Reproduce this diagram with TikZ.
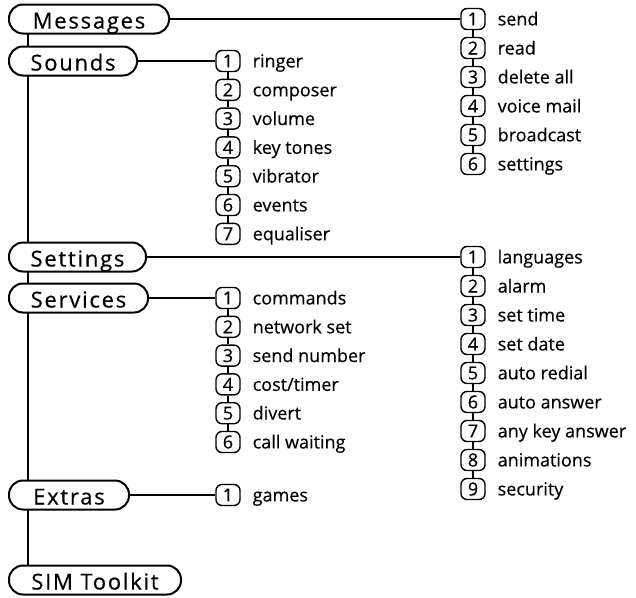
\documentclass[tikz,border=0pt]{standalone}
\usepackage{fontspec}
\setmainfont{Open Sans}[FakeBold=0.4]
\newfontfamily\menufont{Open Sans}[LetterSpace=8, FakeBold=0.5]
\usetikzlibrary{positioning,backgrounds}

\begin{document}
\begin{tikzpicture}[x=1pt, y=-1pt, line width=2pt,
    menu/.style={draw, fill=white, rounded corners=14pt, anchor=west,
      minimum height=29pt, inner sep=0pt, text height=19pt, text depth=0pt,
      font=\menufont\fontsize{22}{22}\selectfont},
    num/.style={draw, fill=white, rounded corners=6pt, line width=1.4pt,
      minimum width=24pt, minimum height=21pt, inner sep=0pt,
      font=\fontsize{18}{18}\selectfont},
    entry/.style={inner sep=0pt, font=\fontsize{18}{18}\selectfont},
    link/.style={line width=1.8pt}]
  \useasboundingbox (0,0) rectangle (636,597);
  % main menu
  \node[menu, minimum width=160pt] (messages) at (8,19) {Messages};%
  \node[menu, minimum width=128pt] (sounds) at (8,61) {Sounds};%
  \node[menu, minimum width=137pt] (settings) at (8,257) {Settings};%
  \node[menu, minimum width=139pt] (services) at (8,298) {Services};%
  \node[menu, minimum width=120pt] (extras) at (8,495) {Extras};%
  \node[menu, minimum width=172pt] (simkit) at (8,580) {SIM Toolkit};%
  \begin{scope}[on background layer]
    \draw[line width=2.5pt] ([xshift=20pt]messages.west) -- ([xshift=20pt]simkit.west);
  \end{scope}
  % sub menus
  \foreach \t [count=\i] in {send,read,delete all,voice mail,broadcast,settings} {
    \node[num] (msg\i) at (473,{19+29*(\i-1)}) {\i};
    \node[entry, right=11pt of msg\i.base east, anchor=base west] {\t};
  }
  \foreach \t [count=\i] in {ringer,composer,volume,key tones,vibrator,events,equaliser} {
    \node[num] (snd\i) at (228,{61+28.8*(\i-1)}) {\i};
    \node[entry, right=11pt of snd\i.base east, anchor=base west] {\t};
  }
  \foreach \t [count=\i] in {languages,alarm,set time,set date,auto redial,auto answer,any key answer,animations,security} {
    \node[num] (set\i) at (473,{257+29*(\i-1)}) {\i};
    \node[entry, right=11pt of set\i.base east, anchor=base west] {\t};
  }
  \foreach \t [count=\i] in {commands,network set,send number,cost/timer,divert,call waiting} {
    \node[num] (srv\i) at (228,{298+28.8*(\i-1)}) {\i};
    \node[entry, right=11pt of srv\i.base east, anchor=base west] {\t};
  }
  \node[num] (ext1) at (228,495) {1};
  \node[entry, right=11pt of ext1.base east, anchor=base west] {games};
  % links
  \draw (messages) -- (msg1);
  \draw (sounds) -- (snd1);
  \draw (settings) -- (set1);
  \draw (services) -- (srv1);
  \draw (extras) -- (ext1);
  \foreach \i [remember=\i as \j (initially 1)] in {2,...,6}
    \draw[link] (msg\j) -- (msg\i);
  \foreach \i [remember=\i as \j (initially 1)] in {2,...,7}
    \draw[link] (snd\j) -- (snd\i);
  \foreach \i [remember=\i as \j (initially 1)] in {2,...,9}
    \draw[link] (set\j) -- (set\i);
  \foreach \i [remember=\i as \j (initially 1)] in {2,...,6}
    \draw[link] (srv\j) -- (srv\i);
\end{tikzpicture}
\end{document}
